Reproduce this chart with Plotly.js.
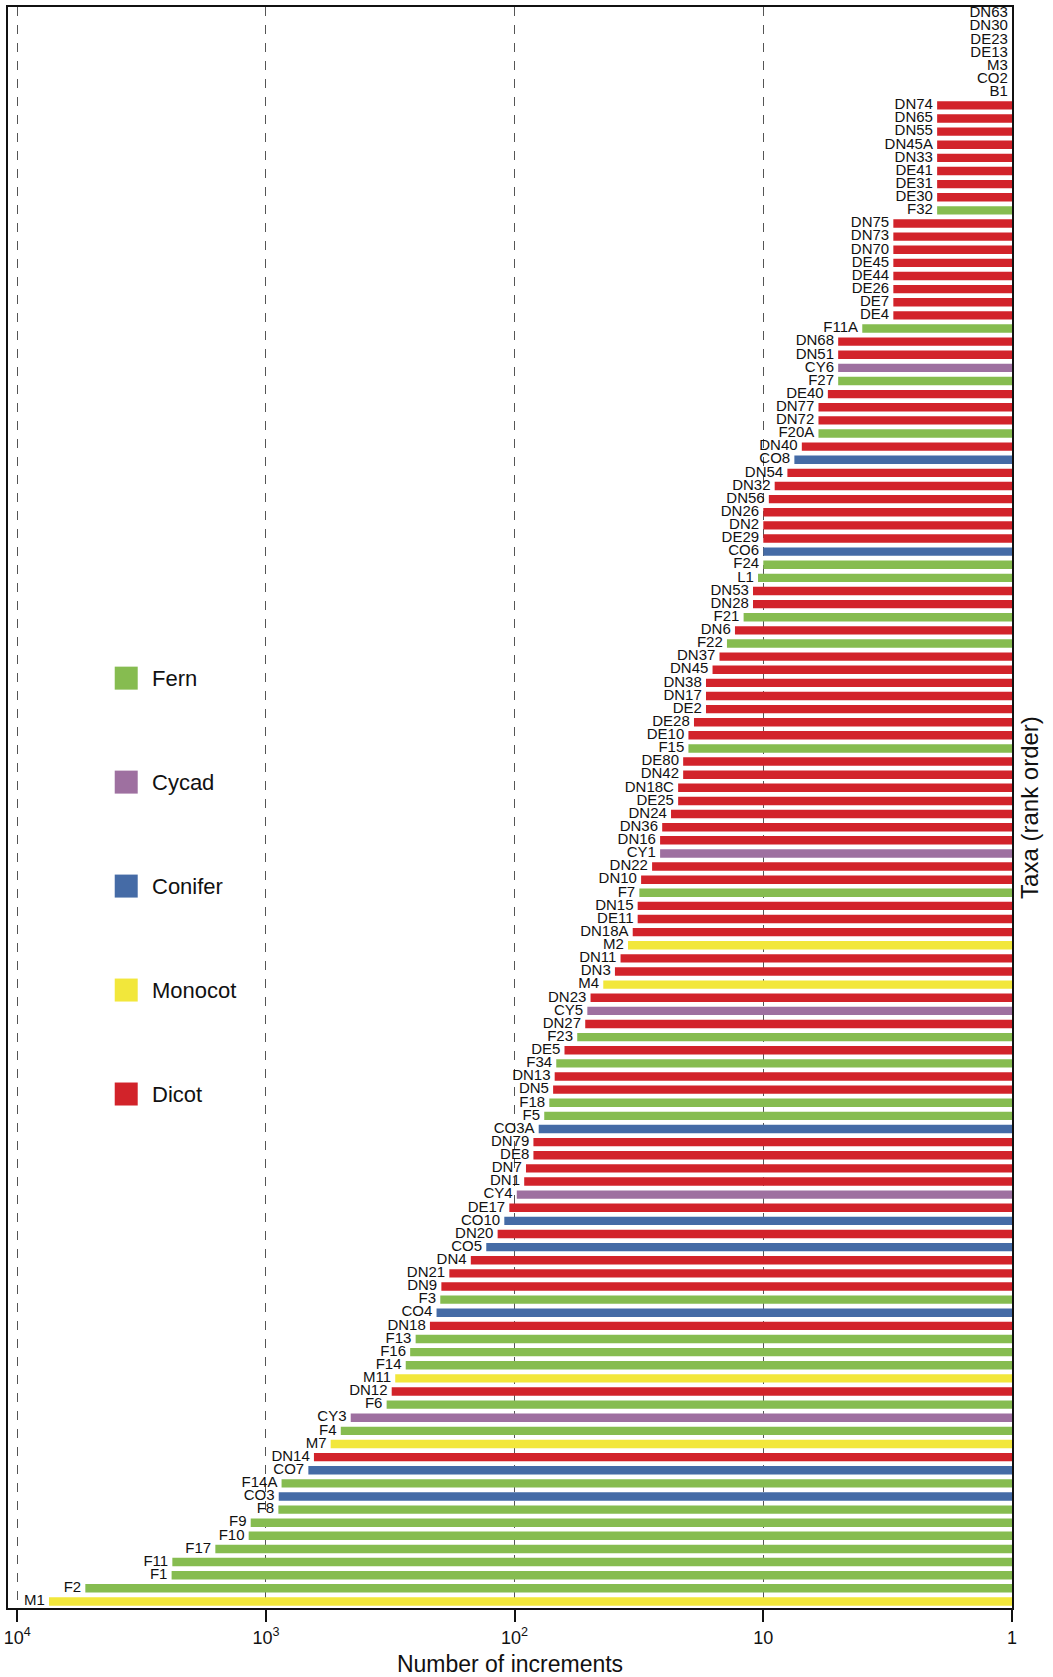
<!DOCTYPE html>
<html>
<head>
<meta charset="utf-8">
<script src="https://cdn.plot.ly/plotly-3.0.1.min.js"></script>
<style>
html,body{margin:0;padding:0;background:#fff;}
#chart{width:1053px;height:1677px;}
</style>
</head>
<body>
<div id="chart"></div>
<script>
// Taxa in rank order, top to bottom
const taxa = ["DN63","DN30","DE23","DE13","M3","CO2","B1",
"DN74","DN65","DN55","DN45A","DN33","DE41","DE31","DE30","F32",
"DN75","DN73","DN70","DE45","DE44","DE26","DE7","DE4","F11A",
"DN68","DN51","CY6","F27","DE40","DN77","DN72","F20A","DN40","CO8",
"DN54","DN32","DN56","DN26","DN2","DE29","CO6","F24","L1","DN53",
"DN28","F21","DN6","F22","DN37","DN45","DN38","DN17","DE2","DE28",
"DE10","F15","DE80","DN42","DN18C","DE25","DN24","DN36","DN16","CY1",
"DN22","DN10","F7","DN15","DE11","DN18A","M2","DN11","DN3","M4",
"DN23","CY5","DN27","F23","DE5","F34","DN13","DN5","F18","F5",
"CO3A","DN79","DE8","DN7","DN1","CY4","DE17","CO10","DN20","CO5",
"DN4","DN21","DN9","F3","CO4","DN18","F13","F16","F14","M11",
"DN12","F6","CY3","F4","M7","DN14","CO7","F14A","CO3","F8",
"F9","F10","F17","F11","F1","F2","M1"];

// Number of increments per taxon (same order)
const increments = [1,1,1,1,1,1,1,
2,2,2,2,2,2,2,2,2,
3,3,3,3,3,3,3,3,4,
5,5,5,5,5.5,6,6,6,7,7.5,
8,9,9.5,10,10,10,10,10,10.5,11,
11,12,13,14,15,16,17,17,17,19,
20,20,21,21,22,22,23.5,25.5,26,26,
28,31,31.5,32,32,33.5,35,37.5,39.5,44,
49.5,51,52,56,63,68,69,70,72.5,76,
80,84,84,90,91.5,98,105,110,117,130,
150,183,197,199,206,219,250,263,274,302,
312,327,456,500,549,641,675,865,888,891,
1151,1173,1597,2378,2394,5322,7450];

// Group of each taxon (same order)
const groups = ["Dicot","Dicot","Dicot","Dicot","Monocot","Conifer","Fern",
"Dicot","Dicot","Dicot","Dicot","Dicot","Dicot","Dicot","Dicot","Fern",
"Dicot","Dicot","Dicot","Dicot","Dicot","Dicot","Dicot","Dicot","Fern",
"Dicot","Dicot","Cycad","Fern","Dicot","Dicot","Dicot","Fern","Dicot","Conifer",
"Dicot","Dicot","Dicot","Dicot","Dicot","Dicot","Conifer","Fern","Fern","Dicot",
"Dicot","Fern","Dicot","Fern","Dicot","Dicot","Dicot","Dicot","Dicot","Dicot",
"Dicot","Fern","Dicot","Dicot","Dicot","Dicot","Dicot","Dicot","Dicot","Cycad",
"Dicot","Dicot","Fern","Dicot","Dicot","Dicot","Monocot","Dicot","Dicot","Monocot",
"Dicot","Cycad","Dicot","Fern","Dicot","Fern","Dicot","Dicot","Fern","Fern",
"Conifer","Dicot","Dicot","Dicot","Dicot","Cycad","Dicot","Conifer","Dicot","Conifer",
"Dicot","Dicot","Dicot","Fern","Conifer","Dicot","Fern","Fern","Fern","Monocot",
"Dicot","Fern","Cycad","Fern","Monocot","Dicot","Conifer","Fern","Conifer","Fern",
"Fern","Fern","Fern","Fern","Fern","Fern","Monocot"];

const legendNames = ["Fern","Cycad","Conifer","Monocot","Dicot"];
const legendColors = ["#86BC50","#9E70A0","#456BA6","#F2E73B","#D2232A"];

const tickVals = [1,10,100,1000,10000];
const tickText = ["1","10","10<sup>2</sup>","10<sup>3</sup>","10<sup>4</sup>"];

const colorOf = {};
legendNames.forEach((n,i)=>colorOf[n]=legendColors[i]);

const FONT = "Liberation Sans, Arial, Helvetica, sans-serif";

const bars = {
  type:"bar", orientation:"h",
  y: taxa, x: increments,
  marker:{color: groups.map(g=>colorOf[g]), line:{width:0}},
  hoverinfo:"skip", showlegend:false
};

const labels = {
  type:"scatter", mode:"text",
  y: taxa, x: increments, text: taxa,
  texttemplate:"%{text}\u00a0",
  textposition:"middle left",
  textfont:{family:FONT, size:15, color:"#111"},
  cliponaxis:false, hoverinfo:"skip", showlegend:false
};

// legend built from the names/colours arrays
const shapes = [], annotations = [];
const legTop = 0.5808, legStep = 0.06494;
legendNames.forEach((n,i)=>{
  const yc = legTop - i*legStep;
  shapes.push({type:"rect", xref:"paper", yref:"paper",
    x0:0.1063, x1:0.1292, y0:yc-0.00718, y1:yc+0.00718,
    fillcolor:legendColors[i], line:{width:0}});
  annotations.push({xref:"paper", yref:"paper", x:0.141, y:yc,
    xanchor:"left", yanchor:"middle", text:n, showarrow:false,
    font:{family:FONT, size:22, color:"#111"}});
});

const layout = {
  width:1053, height:1677,
  margin:{l:8, r:41, t:7, b:69},
  paper_bgcolor:"#fff", plot_bgcolor:"#fff",
  font:{family:FONT, color:"#111"},
  bargap:0.36,
  showlegend:false,
  xaxis:{
    type:"log", range:[4.037, 0],
    tickvals:tickVals, ticktext:tickText,
    ticks:"outside", ticklen:12, tickwidth:2, tickcolor:"#111",
    tickfont:{family:FONT, size:18, color:"#111"},
    showline:true, linewidth:2, linecolor:"#111", mirror:true,
    showgrid:true, gridcolor:"#555", gridwidth:1, griddash:"dash",
    zeroline:false,
    title:{text:"Number of increments", font:{family:FONT, size:23, color:"#111"}, standoff:14}
  },
  yaxis:{
    type:"category", range:[taxa.length-0.5, -0.5], side:"right",
    showticklabels:false, ticks:"", showgrid:false, zeroline:false,
    showline:true, linewidth:2, linecolor:"#111", mirror:true,
    title:{text:"Taxa (rank order)", font:{family:FONT, size:24, color:"#111"}, standoff:8}
  },
  shapes:shapes, annotations:annotations
};

Plotly.newPlot("chart",[bars,labels],layout,{displayModeBar:false, staticPlot:true});
</script>
</body>
</html>
